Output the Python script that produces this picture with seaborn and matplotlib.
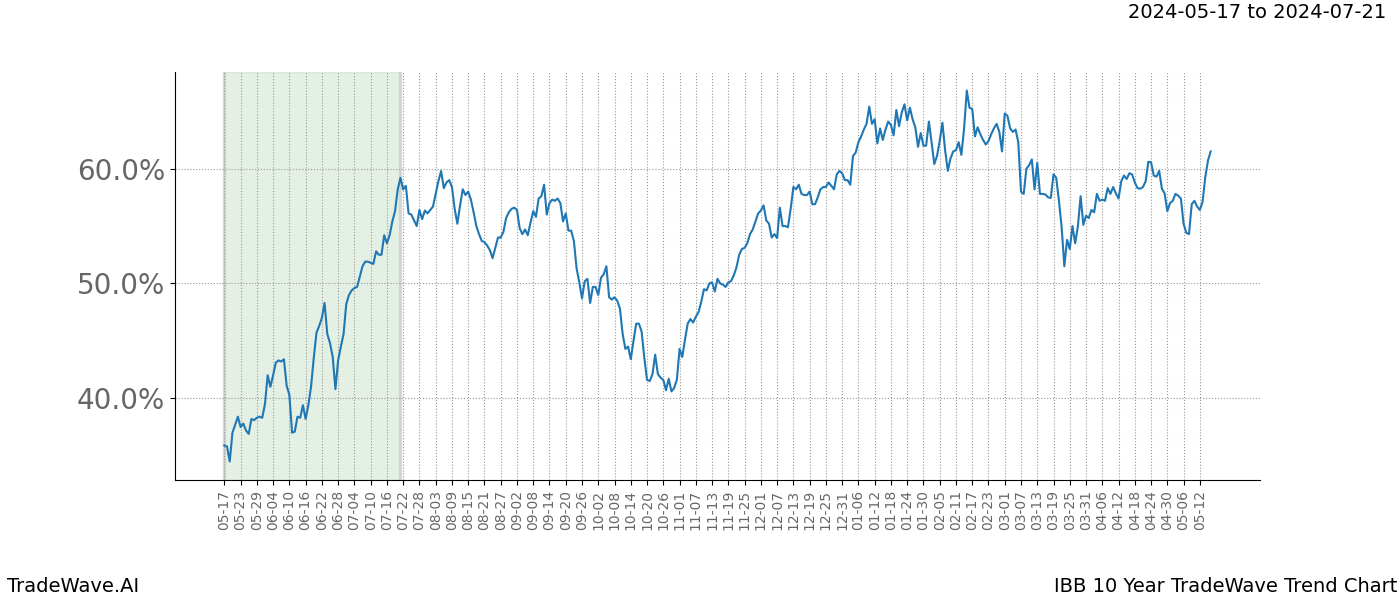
import matplotlib
matplotlib.use("Agg")
import matplotlib.pyplot as plt
import matplotlib.dates as mdates
from matplotlib.ticker import FuncFormatter
import seaborn as sns
import pandas as pd

start_date = "2024-05-17"
highlight_start = "2024-05-17"
highlight_end = "2024-07-21"
title_text = "2024-05-17 to 2024-07-21"
left_text = "TradeWave.AI"
right_text = "IBB 10 Year TradeWave Trend Chart"
y_ticks = [40, 50, 60]

values = [
    35.9, 35.8, 34.5, 37.0, 37.7, 38.4, 37.5, 37.8, 37.2, 36.9,
    38.2, 38.1, 38.3, 38.4, 38.3, 39.5, 42.0, 41.0, 42.0, 43.1,
    43.3, 43.2, 43.4, 41.1, 40.3, 37.0, 37.1, 38.4, 38.3, 39.4,
    38.2, 39.4, 41.0, 43.5, 45.7, 46.3, 47.0, 48.3, 45.6, 44.8,
    43.6, 40.8, 43.3, 44.5, 45.6, 48.2, 49.0, 49.4, 49.6, 49.7,
    50.6, 51.5, 51.9, 51.9, 51.8, 51.7, 52.8, 52.5, 52.5, 54.2,
    53.5, 54.2, 55.4, 56.3, 58.2, 59.2, 58.2, 58.5, 56.1, 56.0,
    55.5, 55.0, 56.4, 55.6, 56.35, 56.1, 56.4, 56.7, 57.8, 58.9,
    59.8, 58.3, 58.8, 59.0, 58.4, 56.5, 55.2, 56.8, 58.2, 57.7,
    58.0, 57.3, 56.2, 55.0, 54.3, 53.7, 53.6, 53.3, 52.9, 52.2,
    53.1, 54.0, 54.0, 54.5, 55.7, 56.2, 56.5, 56.6, 56.4, 54.8,
    54.3, 54.7, 54.2, 55.3, 56.3, 55.8, 57.4, 57.6, 58.6, 56.0,
    57.0, 57.3, 57.2, 57.4, 57.0, 55.4, 56.1, 54.6, 54.6, 53.7,
    51.3, 50.1, 48.7, 50.2, 50.4, 48.3, 49.7, 49.7, 49.0, 50.5,
    50.8, 51.5, 48.8, 48.6, 48.8, 48.5, 47.8, 45.6, 44.3, 44.5,
    43.4, 45.0, 46.5, 46.5, 45.8, 43.5, 41.6, 41.5, 42.1, 43.8,
    42.1, 41.8, 41.6, 40.7, 41.7, 40.6, 40.9, 41.6, 44.3, 43.6,
    45.1, 46.5, 46.9, 46.6, 47.1, 47.5, 48.4, 49.5, 49.4, 50.0,
    50.1, 49.3, 50.4, 50.0, 49.9, 49.7, 50.1, 50.2, 50.7, 51.4,
    52.5, 53.0, 53.1, 53.5, 54.3, 54.7, 55.4, 56.1, 56.35, 56.8,
    55.5, 55.2, 54.0, 54.3, 53.95, 56.6, 55.0, 55.0, 54.9, 56.5,
    58.4, 58.2, 58.6, 57.8, 57.7, 57.7, 58.0, 56.9, 56.9, 57.5,
    58.2, 58.4, 58.4, 58.8, 58.5, 58.2, 59.5, 59.8, 59.6, 59.0,
    59.0, 58.6, 61.1, 61.4, 62.3, 62.8, 63.4, 63.9, 65.4, 63.9,
    64.3, 62.2, 63.5, 62.5, 63.4, 64.1, 63.8, 62.9, 65.1, 63.7,
    64.9, 65.6, 64.2, 65.3, 64.3, 63.6, 61.9, 63.1, 62.0, 62.0,
    64.1, 62.3, 60.4, 61.1, 62.4, 64.0, 61.6, 59.8, 60.9, 61.5,
    61.6, 62.3, 61.2, 63.5, 66.8, 65.3, 65.2, 62.8, 63.6, 63.0,
    62.5, 62.1, 62.4, 63.0, 63.5, 63.9, 63.2, 61.5, 64.8, 64.6,
    63.5, 63.2, 63.4, 62.3, 58.0, 57.8, 60.0, 60.3, 60.8, 58.2,
    60.5, 57.8, 57.8, 57.75, 57.5, 57.45, 59.5, 59.2, 57.2, 54.9,
    51.5, 53.8, 53.0, 55.0, 53.5, 55.0, 57.6, 55.1, 55.9, 55.7,
    56.4, 56.2, 57.8, 57.2, 57.3, 57.2, 58.3, 57.8, 58.4, 57.85,
    57.4, 58.9, 59.4, 59.1, 59.6, 59.5, 58.8, 58.3, 58.25, 58.4,
    58.9, 60.6, 60.55, 59.4, 59.3, 59.8, 58.25, 57.85, 56.3, 57.0,
    57.2, 57.8, 57.65, 57.4, 55.2, 54.4, 54.3, 56.9, 57.2, 56.7,
    56.4, 57.1, 59.25, 60.7, 61.5,
]

dates = pd.date_range(start_date, periods=len(values), freq="D")
df = pd.DataFrame({"date": dates, "value": values})

fig, ax = plt.subplots(figsize=(14, 6), dpi=100)
fig.subplots_adjust(left=0.125, right=0.9, top=0.88, bottom=0.2)

ax.axvspan(pd.Timestamp(highlight_start), pd.Timestamp(highlight_end),
           color="#2e8b2e", alpha=0.12, zorder=0)
for edge in (highlight_start, highlight_end):
    ax.axvline(pd.Timestamp(edge), color="#cccccc", lw=2.5, alpha=0.7, zorder=0.5)

sns.lineplot(data=df, x="date", y="value", ax=ax, color="#1f77b4", lw=1.5)

ticks = pd.date_range(start_date, dates[-1], freq="6D")
ax.set_xticks(ticks)
ax.xaxis.set_major_formatter(mdates.DateFormatter("%m-%d"))
ax.set_yticks(y_ticks)
ax.yaxis.set_major_formatter(FuncFormatter(lambda v, p: f"{v:.1f}%"))

ax.tick_params(axis="x", labelrotation=90, labelsize=10, labelcolor="#666666")
ax.tick_params(axis="y", labelsize=20, labelcolor="#666666")
ax.grid(True, color="#999999", linestyle=":", linewidth=0.8)
ax.set_axisbelow(True)
for s in ("top", "right"):
    ax.spines[s].set_visible(False)
ax.set_xlabel("")
ax.set_ylabel("")

fig.text(0.99, 0.98, title_text, ha="right", va="center", fontsize=14)
fig.text(0.005, 0.022, left_text, ha="left", va="center", fontsize=14)
fig.text(0.998, 0.022, right_text, ha="right", va="center", fontsize=14)

fig.savefig("out.png", dpi=100)
